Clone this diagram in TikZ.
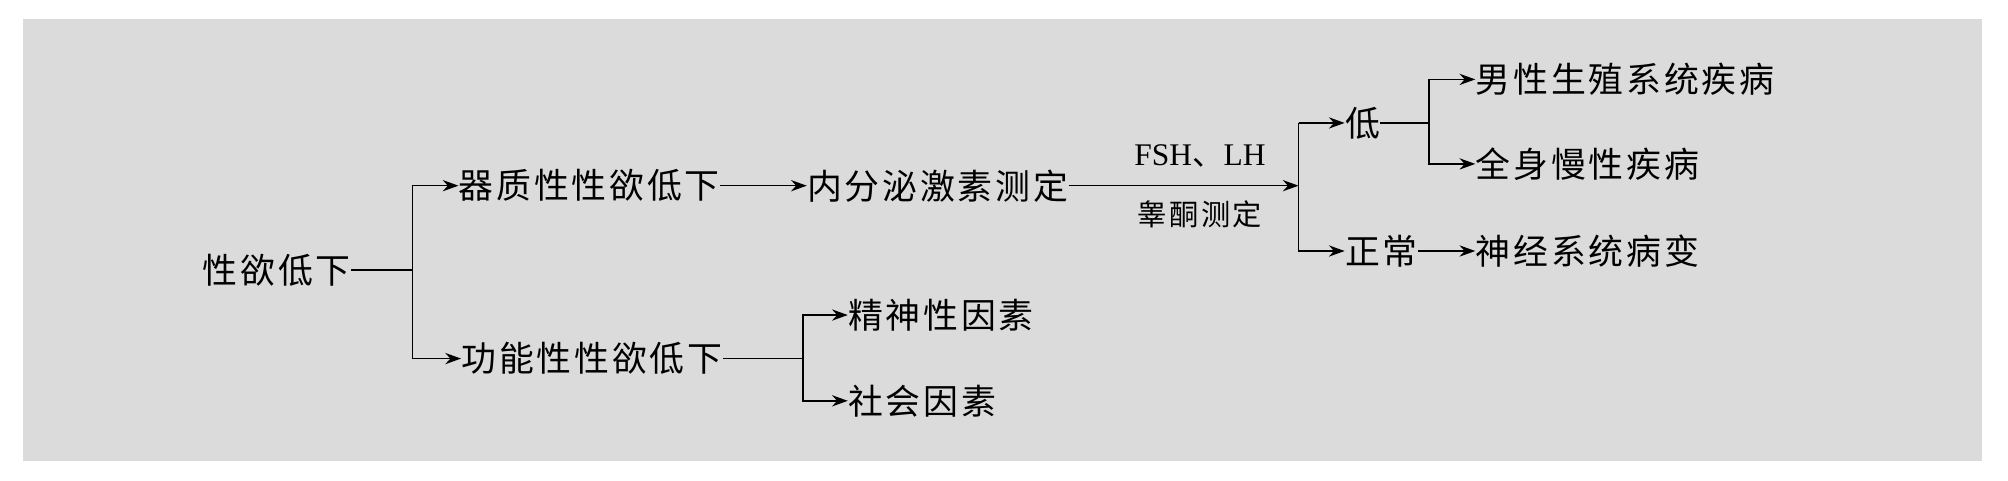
\documentclass[tikz,border=0pt]{standalone}
\usepackage{fontspec}
\usetikzlibrary{arrows.meta}
\newfontfamily\cjk{Noto Sans CJK SC}[LetterSpace=8]
\setmainfont{Liberation Serif}
\begin{document}
\begin{tikzpicture}[x=0.02cm,y=-0.02cm,
  t/.style={anchor=west,inner sep=0pt,font=\cjk\fontsize{15.5}{16}\selectfont},
  lab/.style={inner sep=0pt,font=\cjk\fontsize{13}{14}\selectfont},
  ar/.style={-{Stealth[length=7pt,width=5pt]},line width=0.7pt},
  ln/.style={line width=0.7pt}]
\useasboundingbox (0,0) rectangle (1568,375);
\fill[white] (0,0) rectangle (1568,375);
\fill[black!14] (18,15) rectangle (1548,360);
\node[t] (a) at (158,211) {性欲低下};
\node[t] (b) at (358,145) {器质性性欲低下};
\node[t] (c) at (630,145) {内分泌激素测定};
\node[t] (d) at (360,280) {功能性性欲低下};
\node[t] (e) at (662,246) {精神性因素};
\node[t] (f) at (662,313) {社会因素};
\node[t] (g) at (1050,96) {低};
\node[t] (h) at (1050,196) {正常};
\node[t] (i) at (1152,62) {男性生殖系统疾病};
\node[t] (j) at (1152,128) {全身慢性疾病};
\node[t] (k) at (1152,196) {神经系统病变};
\coordinate (p) at (1014,145);
\node[lab,font=\fontsize{14}{15}\selectfont] at (937,122) {FSH\cjk 、\rmfamily LH};
\node[lab] at (937,167) {睾酮测定};
\draw[ln] (a.east) -- (322,211);
\draw[ar] (322,211) |- (b.west);
\draw[ar] (322,211) |- (d.west);
\draw[ar] (b.east) -- (c.west);
\draw[ar] (c.east) -- (p);
\draw[ln] (p) -- (1014,96);
\draw[ar] (1014,96) -- (g.west);
\draw[ar] (p) |- (h.west);
\draw[ln] (g.east) -- (1116,96);
\draw[ar] (1116,96) |- (i.west);
\draw[ar] (1116,96) |- (j.west);
\draw[ar] (h.east) -- (k.west);
\draw[ln] (d.east) -- (627,280);
\draw[ar] (627,280) |- (e.west);
\draw[ar] (627,280) |- (f.west);
\end{tikzpicture}
\end{document}
